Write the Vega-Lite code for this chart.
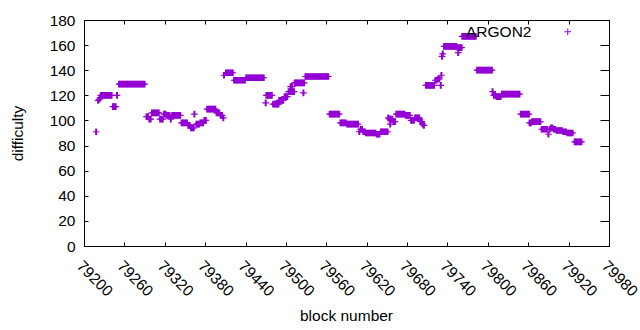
{
"$schema":"https://vega.github.io/schema/vega-lite/v6.json",
"width":525,"height":226,
"autosize":{"type":"none"},
"padding":{"left":84,"top":20,"right":31,"bottom":84},
"background":"white",
"config":{
"view":{"stroke":"black","strokeWidth":1},
"font":"Liberation Sans",
"axis":{"domainColor":"black","tickColor":"black","labelColor":"black","titleColor":"black","labelFont":"Liberation Sans","titleFont":"Liberation Sans","labelFontSize":15.5,"titleFontSize":15.5,"titleFontWeight":"normal","grid":false,"tickWidth":1,"domainWidth":1},
"legend":{"labelFont":"Liberation Sans","labelFontSize":15.5,"labelColor":"black"}
},
"data":{"values":[
{"b":79218,"d":91},{"b":79221,"d":116},{"b":79223,"d":117},
{"b":79225,"d":120},{"b":79227,"d":120},{"b":79229,"d":120},{"b":79231,"d":120},{"b":79233,"d":120},{"b":79235,"d":120},{"b":79237,"d":120},{"b":79239,"d":120},{"b":79241,"d":120},
{"b":79243,"d":111},{"b":79245,"d":111},{"b":79247,"d":111},{"b":79249,"d":120},
{"b":79252,"d":129},{"b":79254,"d":129},{"b":79256,"d":129},{"b":79258,"d":129},{"b":79260,"d":129},{"b":79262,"d":129},{"b":79264,"d":129},{"b":79266,"d":129},{"b":79268,"d":129},{"b":79270,"d":129},{"b":79272,"d":129},{"b":79274,"d":129},{"b":79276,"d":129},{"b":79278,"d":129},{"b":79280,"d":129},{"b":79282,"d":129},{"b":79284,"d":129},{"b":79286,"d":129},{"b":79288,"d":129},{"b":79290,"d":129},
{"b":79293,"d":103},{"b":79295,"d":103},{"b":79297,"d":101},{"b":79299,"d":101},
{"b":79301,"d":106},{"b":79303,"d":106},{"b":79305,"d":106},{"b":79307,"d":106},{"b":79309,"d":106},{"b":79311,"d":106},
{"b":79313,"d":101},{"b":79315,"d":101},{"b":79317,"d":101},{"b":79319,"d":105},{"b":79321,"d":105},{"b":79323,"d":104},{"b":79325,"d":104},{"b":79327,"d":104},{"b":79329,"d":101},
{"b":79331,"d":104},{"b":79333,"d":104},{"b":79335,"d":104},{"b":79337,"d":104},{"b":79339,"d":104},{"b":79341,"d":104},{"b":79343,"d":104},
{"b":79345,"d":98},{"b":79347,"d":98},{"b":79349,"d":98},{"b":79351,"d":98},{"b":79353,"d":98},{"b":79355,"d":96},{"b":79357,"d":96},{"b":79359,"d":94},{"b":79361,"d":94},{"b":79363,"d":94},{"b":79364,"d":105},
{"b":79367,"d":97},{"b":79369,"d":97},{"b":79371,"d":97},{"b":79373,"d":98},{"b":79375,"d":98},{"b":79377,"d":98},{"b":79379,"d":100},{"b":79381,"d":100},
{"b":79383,"d":109},{"b":79385,"d":109},{"b":79387,"d":109},{"b":79389,"d":109},{"b":79391,"d":109},{"b":79393,"d":109},{"b":79395,"d":109},
{"b":79397,"d":106},{"b":79399,"d":106},{"b":79401,"d":106},{"b":79403,"d":104},{"b":79405,"d":104},{"b":79407,"d":102},{"b":79408,"d":136},
{"b":79411,"d":138},{"b":79413,"d":138},{"b":79415,"d":138},{"b":79417,"d":138},{"b":79419,"d":138},{"b":79421,"d":138},
{"b":79423,"d":132},{"b":79425,"d":132},{"b":79427,"d":132},{"b":79429,"d":132},{"b":79431,"d":132},{"b":79433,"d":132},{"b":79435,"d":132},{"b":79437,"d":132},{"b":79439,"d":132},
{"b":79441,"d":134},{"b":79443,"d":134},{"b":79445,"d":134},{"b":79447,"d":134},{"b":79449,"d":134},{"b":79451,"d":134},{"b":79453,"d":134},{"b":79455,"d":134},{"b":79457,"d":134},{"b":79459,"d":134},{"b":79461,"d":134},{"b":79463,"d":134},{"b":79465,"d":134},{"b":79467,"d":134},
{"b":79470,"d":114},
{"b":79471,"d":120},{"b":79473,"d":120},{"b":79475,"d":120},{"b":79477,"d":120},{"b":79479,"d":120},
{"b":79481,"d":113},{"b":79483,"d":113},{"b":79485,"d":113},{"b":79487,"d":113},{"b":79489,"d":113},
{"b":79490,"d":116},{"b":79492,"d":116},{"b":79494,"d":116},{"b":79496,"d":116},
{"b":79498,"d":119},{"b":79500,"d":119},{"b":79502,"d":119},
{"b":79504,"d":123},{"b":79506,"d":123},{"b":79508,"d":123},{"b":79510,"d":123},{"b":79512,"d":123},{"b":79507,"d":127},{"b":79509,"d":127},
{"b":79513,"d":130},{"b":79515,"d":130},{"b":79517,"d":130},{"b":79519,"d":130},{"b":79521,"d":130},{"b":79523,"d":130},{"b":79525,"d":130},{"b":79527,"d":130},{"b":79526,"d":122},
{"b":79529,"d":135},{"b":79531,"d":135},{"b":79533,"d":135},{"b":79535,"d":135},{"b":79537,"d":135},{"b":79539,"d":135},{"b":79541,"d":135},{"b":79543,"d":135},{"b":79545,"d":135},{"b":79547,"d":135},{"b":79549,"d":135},{"b":79551,"d":135},{"b":79553,"d":135},{"b":79555,"d":135},{"b":79557,"d":135},{"b":79559,"d":135},{"b":79561,"d":135},{"b":79563,"d":135},
{"b":79565,"d":105},{"b":79567,"d":105},{"b":79569,"d":105},{"b":79571,"d":105},{"b":79573,"d":105},{"b":79575,"d":105},{"b":79577,"d":105},{"b":79579,"d":105},
{"b":79581,"d":98},{"b":79583,"d":98},{"b":79585,"d":98},{"b":79587,"d":98},{"b":79589,"d":98},
{"b":79591,"d":97},{"b":79593,"d":97},{"b":79595,"d":97},{"b":79597,"d":97},{"b":79599,"d":97},{"b":79601,"d":97},{"b":79603,"d":97},{"b":79605,"d":97},{"b":79607,"d":97},
{"b":79609,"d":91},{"b":79611,"d":93},{"b":79613,"d":93},{"b":79615,"d":91},{"b":79617,"d":91},
{"b":79619,"d":90},{"b":79621,"d":90},{"b":79623,"d":90},{"b":79625,"d":90},{"b":79627,"d":90},{"b":79629,"d":90},{"b":79631,"d":90},{"b":79633,"d":90},
{"b":79635,"d":89},{"b":79637,"d":89},{"b":79639,"d":89},
{"b":79641,"d":91},{"b":79643,"d":91},{"b":79645,"d":91},{"b":79647,"d":91},{"b":79649,"d":91},{"b":79651,"d":91},
{"b":79652,"d":102},{"b":79654,"d":101},{"b":79655,"d":97},{"b":79656,"d":101},{"b":79658,"d":101},{"b":79660,"d":99},{"b":79662,"d":99},
{"b":79664,"d":105},{"b":79666,"d":105},{"b":79668,"d":105},{"b":79670,"d":105},{"b":79672,"d":105},{"b":79674,"d":105},{"b":79676,"d":105},
{"b":79678,"d":104},{"b":79680,"d":104},{"b":79682,"d":104},{"b":79684,"d":104},
{"b":79686,"d":100},{"b":79688,"d":100},{"b":79690,"d":100},
{"b":79692,"d":102},{"b":79694,"d":102},{"b":79696,"d":102},{"b":79698,"d":102},
{"b":79700,"d":99},{"b":79702,"d":99},{"b":79703,"d":97},{"b":79705,"d":96},
{"b":79708,"d":128},{"b":79710,"d":128},{"b":79712,"d":128},{"b":79714,"d":128},{"b":79716,"d":128},{"b":79718,"d":128},{"b":79720,"d":128},
{"b":79722,"d":132},{"b":79724,"d":132},{"b":79726,"d":133},{"b":79728,"d":133},{"b":79730,"d":128},{"b":79731,"d":136},
{"b":79732,"d":151},{"b":79733,"d":153},
{"b":79735,"d":159},{"b":79737,"d":159},{"b":79739,"d":159},{"b":79741,"d":159},{"b":79743,"d":159},{"b":79745,"d":159},{"b":79747,"d":159},{"b":79749,"d":159},{"b":79751,"d":159},{"b":79753,"d":159},
{"b":79755,"d":158},{"b":79756,"d":154},{"b":79757,"d":158},{"b":79759,"d":158},{"b":79761,"d":158},
{"b":79762,"d":167},{"b":79764,"d":167},{"b":79766,"d":167},{"b":79768,"d":167},{"b":79770,"d":167},{"b":79772,"d":167},{"b":79774,"d":167},{"b":79776,"d":167},{"b":79778,"d":167},{"b":79780,"d":167},{"b":79782,"d":167},
{"b":79784,"d":140},{"b":79786,"d":140},{"b":79788,"d":140},{"b":79790,"d":140},{"b":79792,"d":140},{"b":79794,"d":140},{"b":79796,"d":140},{"b":79798,"d":140},{"b":79800,"d":140},{"b":79802,"d":140},{"b":79804,"d":140},{"b":79806,"d":140},
{"b":79807,"d":123},{"b":79809,"d":120},{"b":79811,"d":120},{"b":79813,"d":119},{"b":79815,"d":119},{"b":79817,"d":119},{"b":79819,"d":119},
{"b":79821,"d":121},{"b":79823,"d":121},{"b":79825,"d":121},{"b":79827,"d":121},{"b":79829,"d":121},{"b":79831,"d":121},{"b":79833,"d":121},{"b":79835,"d":121},{"b":79837,"d":121},{"b":79839,"d":121},{"b":79841,"d":121},{"b":79843,"d":121},{"b":79845,"d":121},{"b":79847,"d":121},
{"b":79849,"d":105},{"b":79851,"d":105},{"b":79853,"d":105},{"b":79855,"d":105},{"b":79857,"d":105},{"b":79859,"d":105},{"b":79861,"d":105},
{"b":79862,"d":98},{"b":79864,"d":98},{"b":79866,"d":99},{"b":79868,"d":99},{"b":79870,"d":99},{"b":79872,"d":99},{"b":79874,"d":99},{"b":79876,"d":99},{"b":79878,"d":99},
{"b":79880,"d":93},{"b":79882,"d":93},{"b":79884,"d":93},{"b":79886,"d":93},{"b":79888,"d":93},{"b":79890,"d":89},{"b":79892,"d":93},{"b":79894,"d":94},{"b":79896,"d":94},{"b":79898,"d":93},{"b":79900,"d":93},
{"b":79902,"d":92},{"b":79904,"d":92},{"b":79906,"d":92},{"b":79908,"d":92},{"b":79910,"d":92},
{"b":79912,"d":91},{"b":79914,"d":91},{"b":79916,"d":91},
{"b":79918,"d":90},{"b":79920,"d":90},{"b":79922,"d":90},{"b":79924,"d":90},{"b":79926,"d":90},
{"b":79929,"d":83},{"b":79931,"d":83},{"b":79933,"d":83},{"b":79935,"d":83},{"b":79937,"d":83},{"b":79939,"d":83}
]},
"layer":[
{
"mark":{"type":"point","shape":"M-1,0H1M-0.12,-1V1M0.12,-1V1","size":45,"strokeWidth":1.2,"filled":false,"opacity":1},
"encoding":{
"x":{"field":"b","type":"quantitative","scale":{"domain":[79200,79980],"nice":false,"zero":false},
"axis":{"orient":"bottom","values":[79200,79260,79320,79380,79440,79500,79560,79620,79680,79740,79800,79860,79920,79980],"format":"d","labelAngle":45,"labelAlign":"left","labelBaseline":"top","tickSize":-4,"labelPadding":16,"labelFlush":false,"labelOverlap":false,"title":"block number","titleX":262,"titleY":69,"titleBaseline":"middle","titleAlign":"center"}},
"y":{"field":"d","type":"quantitative","scale":{"domain":[0,180],"nice":false,"zero":true},
"axis":{"values":[0,20,40,60,80,100,120,140,160,180],"tickSize":-4,"labelPadding":13,"labelFlush":false,"labelOverlap":false,"title":"difficulty","titleX":-67,"titleY":113,"titleAngle":270,"titleBaseline":"middle","titleAlign":"center"}},
"color":{"datum":"ARGON2","type":"nominal","scale":{"range":["#9400d3"]},
"legend":{"title":null,"orient":"none","legendX":476,"legendY":4,"padding":0,"symbolType":"M-1,0H1M0,-1V1","symbolSize":45,"symbolStrokeWidth":1,"symbolStrokeColor":"#9400d3","symbolFillColor":"transparent","labelAlign":"right","labelOffset":-44}}
}
},
{
"data":{"values":[]},
"mark":{"type":"point","opacity":0},
"encoding":{
"x":{"field":"b","type":"quantitative","scale":{"domain":[79200,79980],"nice":false,"zero":false},"axis":{"orient":"top","values":[79200,79260,79320,79380,79440,79500,79560,79620,79680,79740,79800,79860,79920,79980],"labels":false,"tickSize":-4,"title":null}},
"y":{"field":"d","type":"quantitative","scale":{"domain":[0,180],"nice":false},"axis":{"orient":"right","values":[0,20,40,60,80,100,120,140,160,180],"labels":false,"tickSize":-9,"title":null}}
}
}
],
"resolve":{"axis":{"x":"independent","y":"independent"}}
}
